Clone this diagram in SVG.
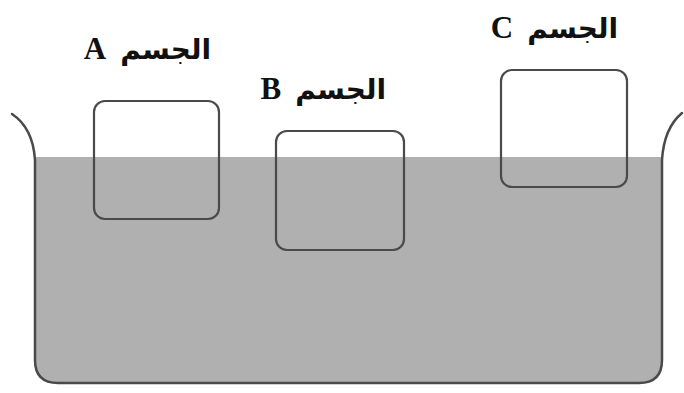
<svg xmlns="http://www.w3.org/2000/svg" width="684" height="393" viewBox="0 0 684 393">
<style>
.wall{fill:none;stroke:#4a4a4a;stroke-width:2.5;stroke-linecap:round}
.box{fill:none;stroke:#4a4a4a;stroke-width:2.2}
.lbl{font-family:"Liberation Serif","DejaVu Sans",serif;font-weight:bold;font-size:28px;fill:#111;word-spacing:7px}
.lt{font-size:31px}
</style>
<rect width="684" height="393" fill="#fff"/>
<g id="water">
<path d="M35,157 L662,157 L662,360 Q662,383 639,383 L58,383 Q35,383 35,360 Z" fill="#b0b0b0"/>
</g>
<g id="container">
<path class="wall" d="M12,114 Q33,128 35,160 L35,360 Q35,383 58,383 L639,383 Q662,383 662,360 L662,160 Q664,128 682,113"/>
</g>
<g id="bodyA">
<rect class="box" x="94" y="101" width="125" height="118" rx="11"/>
<text class="lbl" x="211" y="59" direction="rtl" text-anchor="start">الجسم <tspan class="lt">A</tspan></text>
</g>
<g id="bodyB">
<rect class="box" x="276" y="131" width="128" height="119" rx="11"/>
<text class="lbl" x="386" y="99" direction="rtl" text-anchor="start">الجسم <tspan class="lt">B</tspan></text>
</g>
<g id="bodyC">
<rect class="box" x="501" y="70" width="126" height="117" rx="11"/>
<text class="lbl" x="618" y="38" direction="rtl" text-anchor="start">الجسم <tspan class="lt">C</tspan></text>
</g>
</svg>
